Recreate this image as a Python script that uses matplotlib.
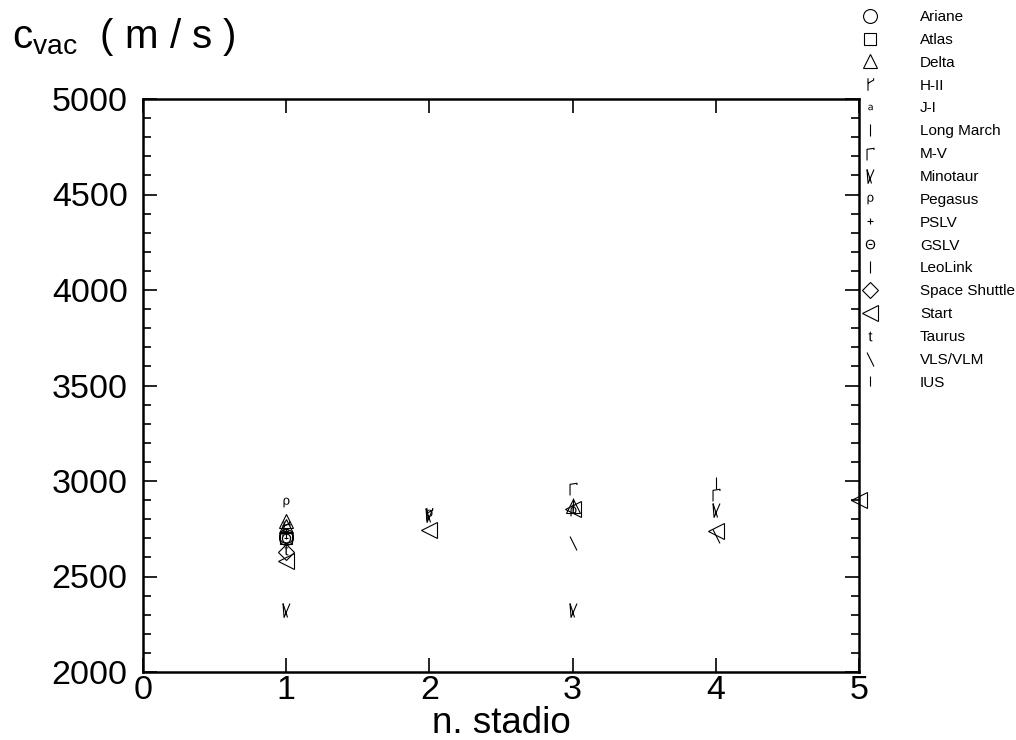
import matplotlib
matplotlib.use("Agg")
import matplotlib.pyplot as plt
from matplotlib.path import Path
from matplotlib.ticker import MultipleLocator

plt.rcParams['font.family'] = ['Liberation Sans', 'DejaVu Sans']
plt.rcParams['mathtext.fontset'] = 'custom'
plt.rcParams['mathtext.rm'] = 'Liberation Sans'
plt.rcParams['mathtext.it'] = 'Liberation Sans'

# ---- data: (stage, c_vac) per launcher ----
rockets = ["Ariane", "Atlas", "Delta", "H-II", "J-I", "Long March", "M-V",
           "Minotaur", "Pegasus", "PSLV", "GSLV", "LeoLink", "Space Shuttle",
           "Start", "Taurus", "VLS/VLM", "IUS"]
stages = {
    "Ariane":        [1, 1],
    "Atlas":         [1],
    "Delta":         [1, 1, 3],
    "H-II":          [1, 2],
    "J-I":           [1],
    "Long March":    [4],
    "M-V":           [1, 3, 4],
    "Minotaur":      [1, 3, 4, 2],
    "Pegasus":       [1, 2, 3],
    "PSLV":          [1],
    "GSLV":          [1],
    "LeoLink":       [3],
    "Space Shuttle": [1],
    "Start":         [1, 2, 3, 4, 5],
    "Taurus":        [1, 3],
    "VLS/VLM":       [3, 4],
    "IUS":           [1],
}
cvac = {
    "Ariane":        [2700, 2712],
    "Atlas":         [2700],
    "Delta":         [2790, 2765, 2870],
    "H-II":          [2760, 2825],
    "J-I":           [2740],
    "Long March":    [2990],
    "M-V":           [2750, 2965, 2930],
    "Minotaur":      [2325, 2325, 2850, 2820],
    "Pegasus":       [2890, 2825, 2845],
    "PSLV":          [2730],
    "GSLV":          [2700],
    "LeoLink":       [2880],
    "Space Shuttle": [2630],
    "Start":         [2580, 2745, 2855, 2740, 2900],
    "Taurus":        [2640, 2860],
    "VLS/VLM":       [2675, 2710],
    "IUS":           [2720],
}

# ---- custom glyph markers ----
M, L = Path.MOVETO, Path.LINETO
flag = Path([(-0.4, -1), (-0.4, 1), (-0.4, 0.2), (0.5, 0.7), (0.5, 1.0)], [M, L, M, L, L])
mv = Path([(-0.5, -1), (-0.5, 0.6), (0.5, 0.75), (0.5, 0.5)], [M, L, L, L])
mino = Path([(-0.5, 1), (-0.35, -1), (0.5, 1), (-0.5, 1), (0.15, -1)], [M, L, L, M, L])
vls = Path([(-0.3, 0.6), (0.3, -0.6)], [M, L])
bar = Path([(0, -1), (0, 1)], [M, L])

style = {
    "Ariane":        dict(marker='o', ms=10),
    "Atlas":         dict(marker='s', ms=9),
    "Delta":         dict(marker='^', ms=10),
    "H-II":          dict(marker=flag, ms=9),
    "J-I":           dict(marker=r'$\mathsf{a}$', ms=4, text=True),
    "Long March":    dict(marker=bar, ms=9),
    "M-V":           dict(marker=mv, ms=10),
    "Minotaur":      dict(marker=mino, ms=10),
    "Pegasus":       dict(marker=r'$\rho$', ms=7, text=True),
    "PSLV":          dict(marker='+', ms=5),
    "GSLV":          dict(marker=r'$\Theta$', ms=7, text=True),
    "LeoLink":       dict(marker=bar, ms=8),
    "Space Shuttle": dict(marker='D', ms=8.5),
    "Start":         dict(marker='<', ms=11),
    "Taurus":        dict(marker=r'$t$', ms=7, text=True),
    "VLS/VLM":       dict(marker=vls, ms=10),
    "IUS":           dict(marker=bar, ms=7),
}

fig = plt.figure(figsize=(10.16, 7.4), dpi=100)
ax = fig.add_axes([143/1016, 1-672/740, (859-143)/1016, (672-99)/740])

handles = []
for r in rockets:
    st = style[r]
    if st.get('text'):
        kw = dict(markerfacecolor='black', markeredgewidth=0.0)
    else:
        kw = dict(markerfacecolor='none', markeredgewidth=0.8)
    h, = ax.plot(stages[r], cvac[r], linestyle='none', marker=st['marker'],
                 markersize=st['ms'], markeredgecolor='black', color='black',
                 clip_on=False, label=r, **kw)
    handles.append(h)

ax.set_xlim(0, 5)
ax.set_ylim(2000, 5000)
ax.xaxis.set_major_locator(MultipleLocator(1))
ax.yaxis.set_major_locator(MultipleLocator(500))
ax.yaxis.set_minor_locator(MultipleLocator(100))
for s in ax.spines.values():
    s.set_linewidth(1.8)
ax.tick_params(axis='both', which='both', direction='in', top=True, right=True,
               labelsize=24.5, width=1.2)
ax.tick_params(axis='both', which='major', length=10)
ax.tick_params(axis='both', which='minor', length=6)
ax.tick_params(axis='x', pad=2)
ax.tick_params(axis='y', pad=11)

ax.set_xlabel("n. stadio", fontsize=26.5, labelpad=0.5)
fig.text(12/1016, 1-48/740, r"c$_{\mathrm{vac}}$  ( m / s )", fontsize=29,
         va='baseline', ha='left')

leg = fig.legend(handles=handles, loc='upper left',
                 bbox_to_anchor=(862/1016, 1-10/740), frameon=False,
                 fontsize=11, labelspacing=0.58, handlelength=1.0,
                 handletextpad=2.8, borderaxespad=0, borderpad=0, numpoints=1)

fig.savefig("out.png", dpi=100)
